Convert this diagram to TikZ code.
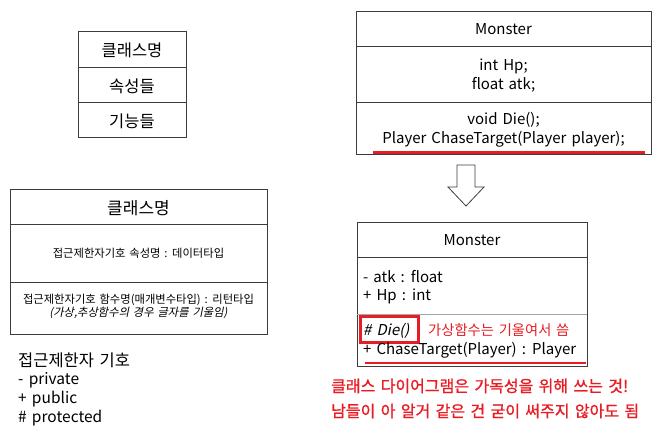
\documentclass[tikz,border=0pt]{standalone}
\usepackage{fontspec}
\setmainfont{Noto Sans CJK KR}[WordSpace=1.5]
\newfontfamily\slantfont{Noto Sans CJK KR}[FakeSlant=0.2,WordSpace=1.5]
\newfontfamily\redfont{Noto Sans CJK KR}[FakeBold=1.2,WordSpace=1.5]
\usetikzlibrary{positioning}
\definecolor{umlline}{RGB}{60,60,60}
\definecolor{markred}{RGB}{232,28,36}
\tikzset{
  box/.style={draw=umlline,line width=1pt},
  txt/.style={inner sep=0pt,font=\fontsize{15}{19}\selectfont},
  bigtxt/.style={inner sep=0pt,font=\fontsize{16.5}{19}\selectfont},
  smalltxt/.style={inner sep=0pt,font=\fontsize{11.3}{13}\selectfont},
  redtxt/.style={inner sep=0pt,text=markred,font=\fontsize{16}{19}\redfont}
}

\begin{document}
\begin{tikzpicture}[x=1pt,y=-1pt]
  \useasboundingbox (0,0) rectangle (666,440);
  % simple class box
  \draw[box] (78,31) rectangle (186,137);
  \draw[box] (78,67) -- (186,67);
  \draw[box] (78,102) -- (186,102);
  \node[bigtxt] (name1) at (132,50) {클래스명};
  \node[bigtxt] (attr1) at (132,86) {속성들};
  \node[bigtxt] (func1) at (132,121) {기능들};

  % general class box
  \draw[box] (10,189) rectangle (267,334);
  \draw[box] (10,224) -- (267,224);
  \draw[box] (10,282) -- (267,282);
  \node[txt,font=\fontsize{17}{20}\selectfont] (name2) at (138.5,208) {클래스명};
  \node[smalltxt] (attr2) at (138.5,253) {접근제한자기호 속성명 : 데이터타입};
  \node[smalltxt] (func2) at (138.5,300) {접근제한자기호 함수명(매개변수타입) : 리턴타입};
  \node[smalltxt,font=\fontsize{11.3}{13}\slantfont] (note2) at (138.5,313) {(가상,추상함수의 경우 글자를 기울임)};

  % access symbols
  \node[bigtxt,anchor=west] (acc) at (18,360) {접근제한자 기호};
  \node[txt,font=\fontsize{15.5}{19}\selectfont,anchor=west] (priv) at (18,380) {- private};
  \node[txt,font=\fontsize{15.5}{19}\selectfont,anchor=west] (pub) at (18,399) {+ public};
  \node[txt,font=\fontsize{15.5}{19}\selectfont,anchor=west] (prot) at (18,418) {\# protected};

  % code-like class box
  \draw[box] (356,11) rectangle (651,154);
  \draw[box] (356,46) -- (651,46);
  \draw[box] (356,102) -- (651,102);
  \node[txt] (name3) at (503.5,29) {Monster};
  \node[txt,align=center] (attr3) at (503.5,76) {int Hp;\\float atk;};
  \node[txt,align=center] (func3) at (503.5,130) {void Die();\\Player ChaseTarget(Player player);};
  \draw[markred,line width=2.5pt] (373,152.5) -- (645,152.5);

  % arrow
  \draw[umlline,line width=0.8pt] (457,165) -- (475,165) -- (475,187) -- (484,187)
    -- (466,206) -- (448,187) -- (457,187) -- cycle;

  % uml class box
  \draw[box] (357,222) rectangle (587,366);
  \draw[box] (357,257) -- (587,257);
  \draw[box,draw=gray!70] (357,314) -- (587,314);
  \node[txt] (name4) at (472,240) {Monster};
  \node[txt,anchor=west] (atk) at (363,277) {- atk : float};
  \node[txt,anchor=west] (hp) at (363,296) {+ Hp : int};
  \node[txt,anchor=west,font=\fontsize{15}{19}\slantfont] (die) at (363,331) {\# Die()};
  \draw[markred,line width=3pt] (360,316) rectangle (418,342);
  \node[redtxt,anchor=west,font=\fontsize{14.3}{16}\selectfont] (dienote) at (428,330) {가상함수는 기울여서 씀};
  \node[txt,anchor=west] (chase) at (363,350) {+ ChaseTarget(Player) : Player};
  \draw[markred,line width=2.5pt] (365,363) -- (586,363);

  % remarks
  \node[redtxt,anchor=west] (rem1) at (331,386) {클래스 다이어그램은 가독성을 위해 쓰는 것!};
  \node[redtxt,anchor=west] (rem2) at (331,411) {남들이 아 알거 같은 건 굳이 써주지 않아도 됨};
\end{tikzpicture}
\end{document}
